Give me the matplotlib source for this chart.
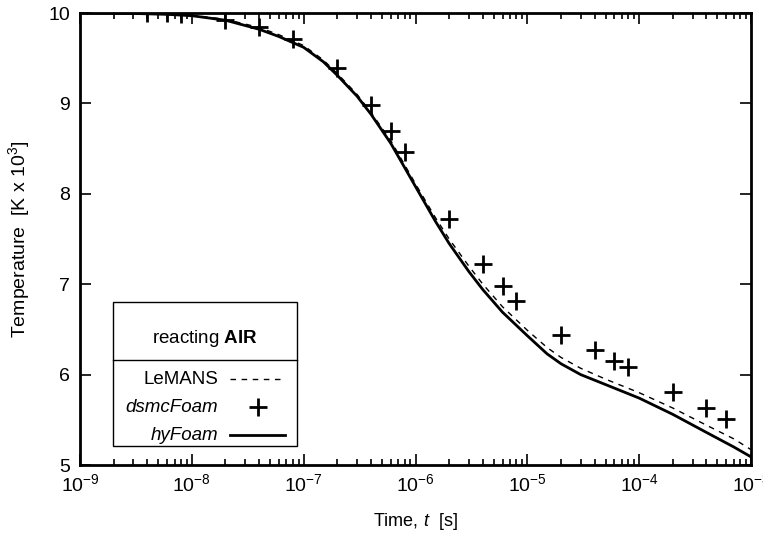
import matplotlib
matplotlib.use("Agg")
import matplotlib.pyplot as plt
from matplotlib.lines import Line2D
from matplotlib.patches import Rectangle
from matplotlib.ticker import LogLocator

plt.rcParams['font.family'] = ['Liberation Sans', 'DejaVu Sans']
plt.rcParams['mathtext.fontset'] = 'custom'
plt.rcParams['mathtext.rm'] = 'Liberation Sans'
plt.rcParams['mathtext.it'] = 'Liberation Sans:italic'
plt.rcParams['mathtext.bf'] = 'Liberation Sans:bold'

# hyFoam (solid)
hy_t = [1e-9, 3e-9, 6e-9, 1e-8, 2e-8, 4e-8, 6e-8, 1e-7, 1.5e-7, 2e-7, 3e-7, 4e-7, 6e-7,
        8e-7, 1e-6, 1.5e-6, 2e-6, 3e-6, 4e-6, 6e-6, 1e-5, 1.5e-5, 2e-5, 3e-5, 5e-5,
        1e-4, 2e-4, 4e-4, 7e-4, 1e-3]
hy_T = [10.0, 9.995, 9.985, 9.97, 9.92, 9.82, 9.74, 9.62, 9.46, 9.31, 9.08, 8.88, 8.56,
        8.29, 8.08, 7.70, 7.45, 7.14, 6.94, 6.69, 6.43, 6.23, 6.12, 6.0, 5.89,
        5.74, 5.56, 5.36, 5.2, 5.09]

# LeMANS (dashed)
le_t = [1e-9, 3e-9, 6e-9, 1e-8, 2e-8, 4e-8, 6e-8, 1e-7, 1.5e-7, 2e-7, 3e-7, 4e-7, 6e-7,
        8e-7, 1e-6, 1.5e-6, 2e-6, 3e-6, 4e-6, 6e-6, 1e-5, 1.5e-5, 2e-5, 3e-5, 5e-5,
        1e-4, 2e-4, 4e-4, 7e-4, 1e-3]
le_T = [10.0, 9.995, 9.99, 9.975, 9.93, 9.84, 9.76, 9.64, 9.48, 9.33, 9.1, 8.9, 8.59,
        8.32, 8.11, 7.74, 7.5, 7.2, 7.0, 6.75, 6.49, 6.3, 6.19, 6.07, 5.95,
        5.8, 5.63, 5.44, 5.29, 5.17]

# dsmcFoam (+)
ds_t = [4e-9, 6e-9, 8e-9, 2e-8, 4e-8, 8e-8, 2e-7, 4e-7, 6e-7, 8e-7, 2e-6, 4e-6, 6e-6,
        8e-6, 2e-5, 4e-5, 6e-5, 8e-5, 2e-4, 4e-4, 6e-4]
ds_T = [10.0, 10.0, 9.99, 9.92, 9.84, 9.71, 9.39, 8.98, 8.69, 8.46, 7.72, 7.22, 6.98,
        6.81, 6.44, 6.27, 6.15, 6.08, 5.81, 5.63, 5.51]

fig = plt.figure(figsize=(7.63, 5.33), dpi=100)
ax = fig.add_axes([80 / 763, 1 - 465 / 533, 671 / 763, 452 / 533])

ax.plot(le_t, le_T, color='black', lw=1.0, ls=(0, (4, 4)))
ax.plot(hy_t, hy_T, color='black', lw=2.0)
ax.plot(ds_t, ds_T, ls='none', marker='+', color='black', ms=13, mew=2.0)

ax.set_xscale('log')
ax.set_xlim(1e-9, 1e-3)
ax.set_ylim(5, 10)
ax.set_yticks([5, 6, 7, 8, 9, 10])
ax.xaxis.set_major_locator(LogLocator(base=10, numticks=10))
ax.xaxis.set_minor_locator(LogLocator(base=10, subs=range(2, 10), numticks=20))
ax.tick_params(which='both', direction='in', top=True, right=True, labelsize=14, width=1.2)
ax.tick_params(which='major', length=8)
ax.tick_params(which='minor', length=4)
ax.tick_params(axis='x', pad=6)
ax.tick_params(axis='y', pad=7)
for s in ax.spines.values():
    s.set_linewidth(2.0)

ax.set_xlabel('Time, $t$  [s]', fontsize=13, labelpad=11)
ax.set_ylabel('Temperature  [K x 10$^3$]', fontsize=14, labelpad=12)

# gnuplot-style legend box
tr = ax.transAxes
ax.add_patch(Rectangle((0.049, 0.042), 0.274, 0.318, transform=tr, fill=False,
                       lw=1.0, edgecolor='black', zorder=5))
ax.add_line(Line2D([0.049, 0.323], [0.232, 0.232], transform=tr, color='black', lw=1.0, zorder=5))
ax.text(0.186, 0.28, 'reacting $\\mathbf{AIR}$', transform=tr, ha='center', va='center', fontsize=13.5)
ax.text(0.206, 0.19, 'LeMANS', transform=tr, ha='right', va='center', fontsize=13.5)
ax.text(0.206, 0.128, 'dsmcFoam', transform=tr, ha='right', va='center', fontsize=13.5, style='italic')
ax.text(0.206, 0.066, 'hyFoam', transform=tr, ha='right', va='center', fontsize=13.5, style='italic')
ax.add_line(Line2D([0.224, 0.306], [0.19, 0.19], transform=tr, color='black', lw=1.0, ls=(0, (4, 4))))
ax.add_line(Line2D([0.265], [0.128], transform=tr, color='black', marker='+', ms=13, mew=2.0))
ax.add_line(Line2D([0.224, 0.306], [0.066, 0.066], transform=tr, color='black', lw=2.0))

fig.savefig('out.png', dpi=100)
